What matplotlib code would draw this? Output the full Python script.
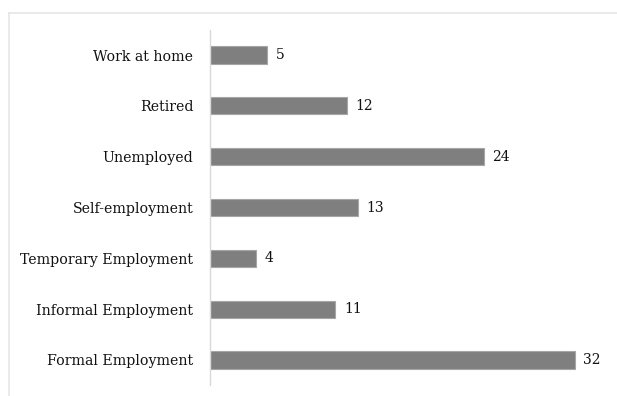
import matplotlib.pyplot as plt
from matplotlib.lines import Line2D

categories = ["Formal Employment", "Informal Employment", "Temporary Employment",
              "Self-employment", "Unemployed", "Retired", "Work at home"]
values = [32, 11, 4, 13, 24, 12, 5]

plt.rcParams['font.family'] = ['DejaVu Serif']

fig = plt.figure(figsize=(6.17, 3.96), dpi=100)
ax = fig.add_axes([210 / 617, 1 - 385.4 / 396, (620 - 210) / 617, (385.4 - 29.6) / 396])

bars = ax.barh(range(len(categories)), values, height=0.34,
               color="#7f7f7f", edgecolor="#a6a6a6", linewidth=0.8)
for i, v in enumerate(values):
    ax.text(v + 0.75, i, str(v), va="center", ha="left", fontsize=10, color="#111111")

ax.set_yticks(range(len(categories)))
ax.set_yticklabels(categories, fontsize=10.2, color="#111111")
ax.set_ylim(-0.5, len(categories) - 0.5)
ax.set_xlim(0, 410 / 11.4)
ax.set_xticks([])
ax.tick_params(axis="y", length=0, pad=12)
for s in ["top", "right", "bottom"]:
    ax.spines[s].set_visible(False)
ax.spines["left"].set_color("#d9d9d9")
ax.spines["left"].set_linewidth(1)

# outer frame of the chart area
fig.add_artist(Line2D([8.5 / 617, 1.0], [1 - 12.5 / 396] * 2, color="#e6e6e6", lw=1.2,
                      transform=fig.transFigure))
fig.add_artist(Line2D([8.5 / 617] * 2, [0, 1 - 12.5 / 396], color="#e6e6e6", lw=1.2,
                      transform=fig.transFigure))

fig.savefig("out.png", dpi=100)
